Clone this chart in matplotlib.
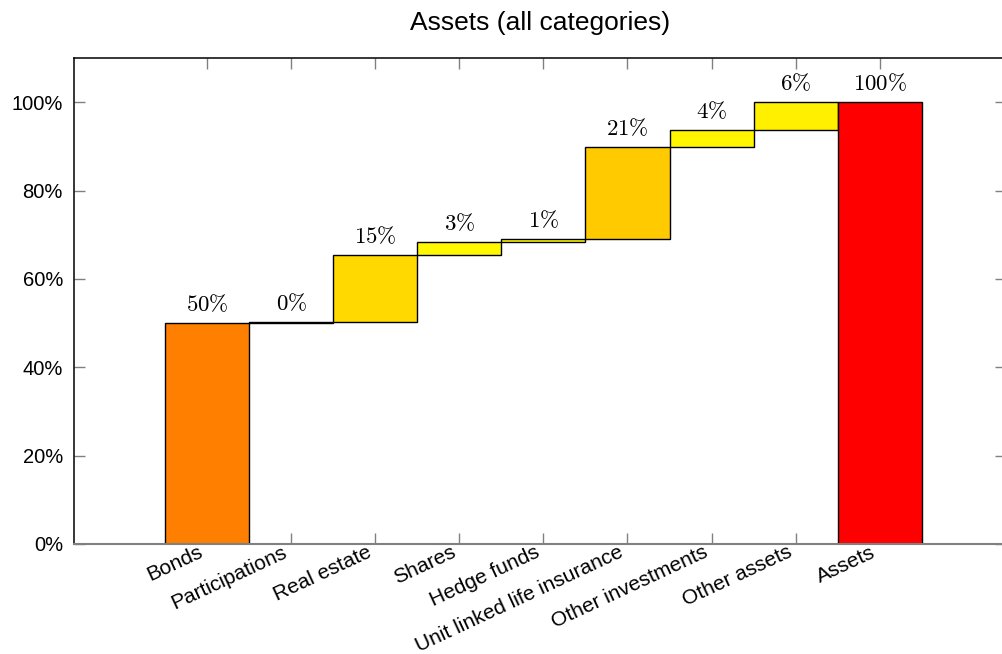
import numpy as np
import matplotlib
matplotlib.use("Agg")
import matplotlib.pyplot as plt
import matplotlib.transforms as mtransforms
from matplotlib.colors import LinearSegmentedColormap, Normalize

plt.rcParams['font.family'] = ['Liberation Sans', 'DejaVu Sans']
plt.rcParams['mathtext.fontset'] = 'cm'

# data (percent of total assets)
categories = ["Bonds", "Participations", "Real estate", "Shares", "Hedge funds",
              "Unit linked life insurance", "Other investments", "Other assets"]
shares = [50.0, 0.3, 15.2, 2.8, 0.8, 20.8, 3.9, 6.2]
total_label = "Assets"
total_value = 100.0
yticks = [0, 20, 40, 60, 80, 100]
ytick_labels = ["0%", "20%", "40%", "60%", "80%", "100%"]

# waterfall bottoms from the cumulative sum
shares_arr = np.array(shares)
bottoms = np.concatenate([[0], np.cumsum(shares_arr)[:-1]])

# colour each step by its size: yellow for small, orange for large
cmap = LinearSegmentedColormap.from_list("yo", ["#FFFF00", "#FF8000"])
norm = Normalize(0, 50)
colors = [cmap(norm(v)) for v in shares]

fig = plt.figure(figsize=(10.03, 6.54), dpi=100)
ax = fig.add_axes([0.0738, 0.1682, 0.929, 0.7431])
ax.set_axisbelow(True)

x = np.arange(len(categories))
ax.bar(x, shares_arr, bottom=bottoms, width=1.0, color=colors,
       edgecolor="black", linewidth=1.0)
ax.bar(len(categories), total_value, width=1.0, color="#FF0000",
       edgecolor="black", linewidth=1.0)

# value labels above each bar
tops = list(bottoms + shares_arr) + [total_value]
values = list(shares) + [total_value]
for xi, top, v in zip(range(len(values)), tops, values):
    ax.annotate(r"$%d\%%$" % round(v), (xi, top), xytext=(0, 5),
                textcoords="offset points", ha="center", va="bottom",
                fontsize=16.5)

all_labels = categories + [total_label]
ax.set_xlim(-1.583, 9.5)
ax.set_ylim(0, 110)
ax.set_xticks(np.arange(len(all_labels)))
ax.set_xticklabels(all_labels, rotation=25, ha="right", va="top",
                   rotation_mode="anchor", fontsize=15)
ax.set_yticks(yticks)
ax.set_yticklabels(ytick_labels, fontsize=14.5)

ax.tick_params(axis="both", direction="in", length=8, width=1.0,
               color="#808080", top=True, right=True)
ax.tick_params(axis="y", pad=8)
ax.tick_params(axis="x", pad=-1)

# nudge the rotated labels a bit to the left
shift = mtransforms.ScaledTranslation(-9 / 100, 0, fig.dpi_scale_trans)
for lbl in ax.get_xticklabels():
    lbl.set_transform(lbl.get_transform() + shift)

for side in ["left", "top", "right"]:
    ax.spines[side].set_color("black")
    ax.spines[side].set_linewidth(1.1)
ax.spines["bottom"].set_color("#808080")
ax.spines["bottom"].set_linewidth(1.5)

ax.set_title("Assets (all categories)", fontsize=19, pad=20)

fig.savefig("out.png", dpi=100)
